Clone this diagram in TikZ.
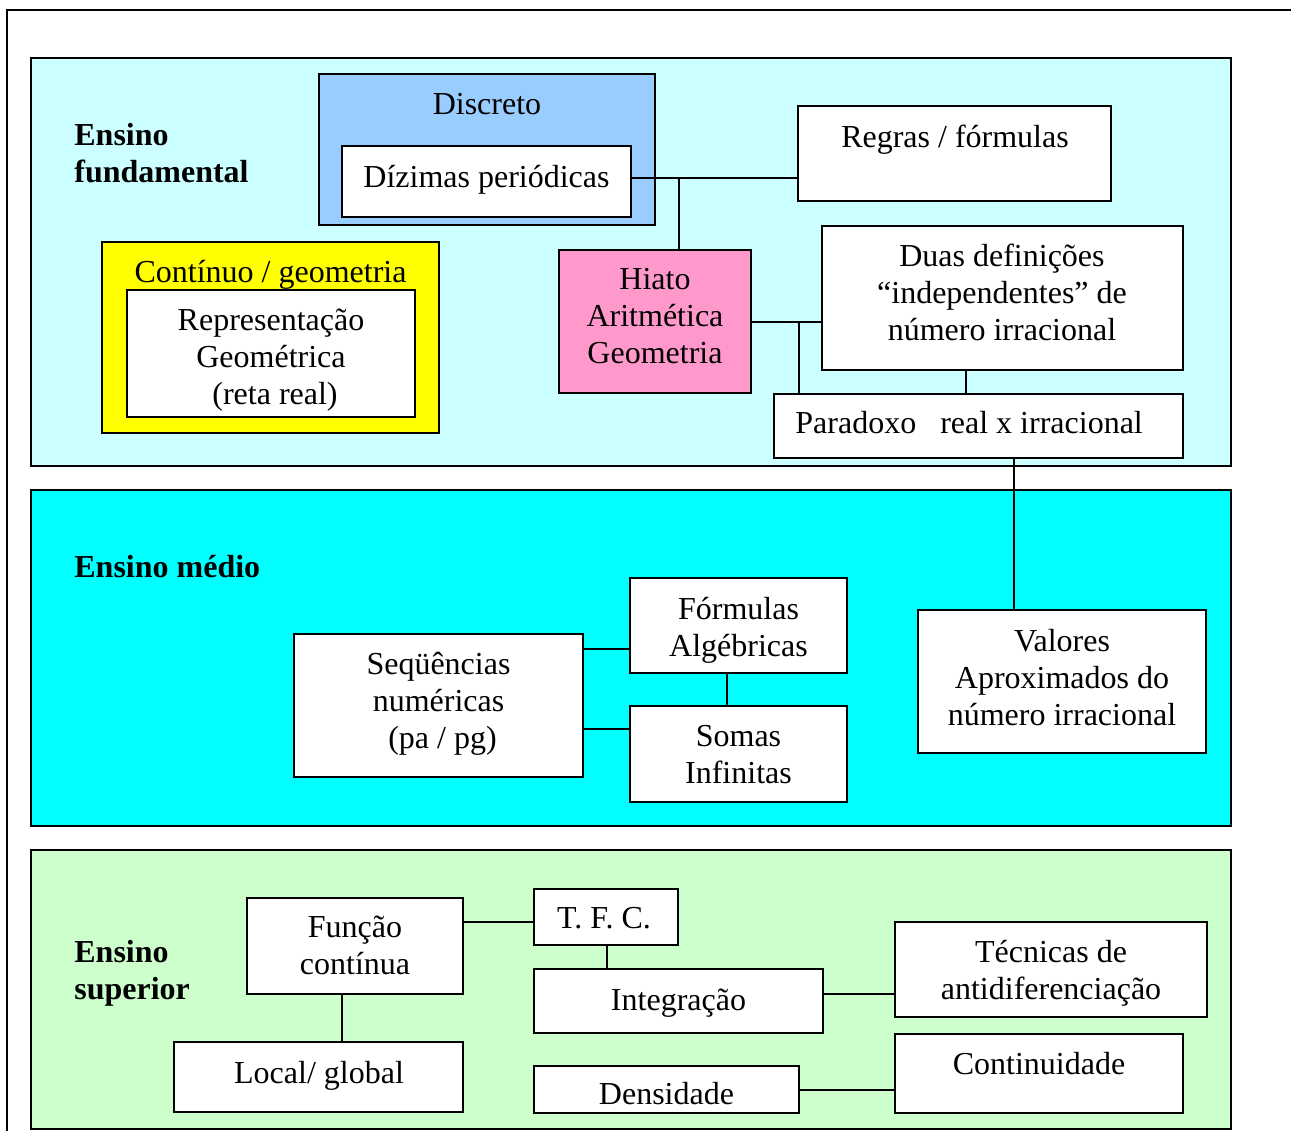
\documentclass[tikz,border=0pt]{standalone}
\usepackage{fontspec}
\setmainfont{Liberation Serif}
\usetikzlibrary{fit}
\definecolor{paleCyan}{HTML}{CCFFFF}
\definecolor{brightCyan}{HTML}{00FFFF}
\definecolor{paleGreen}{HTML}{CCFFCC}
\definecolor{skyBlue}{HTML}{99CCFF}
\definecolor{rosePink}{HTML}{FF99CC}
\definecolor{lemon}{HTML}{FFFF00}
\begin{document}
\begin{tikzpicture}[x=0.5pt,y=-0.5pt,
  font=\fontsize{16}{18.5}\selectfont,
  panel/.style={draw=black,line width=1pt,inner sep=0pt},
  box/.style={draw=black,line width=1pt,fill=white,inner sep=0pt},
  % texts are placed by the baseline of their last line
  txt/.style={anchor=base,align=center,inner sep=0pt},
  head/.style={anchor=base west,align=left,inner sep=0pt,
    font=\fontsize{16}{18.5}\selectfont\bfseries},
  link/.style={draw=black,line width=0.8pt}]
\useasboundingbox (0,0) rectangle (1291,1131);

% outer frame
\draw[line width=1pt] (7,1131) -- (7,10) -- (1291,10);

% school levels
\node[panel,fill=paleCyan,fit={(31,58)(1231,466)}] (fund) {};
\node[panel,fill=brightCyan,fit={(31,490)(1231,826)}] (medio) {};
\node[panel,fill=paleGreen,fit={(31,850)(1231,1129)}] (sup) {};

\node[head] (hfund) at (74,182.5) {Ensino\\fundamental};
\node[head] (hmedio) at (74,577.5) {Ensino médio};
\node[head] (hsup) at (74,999) {Ensino\\superior};

% ---- Ensino fundamental
\node[box,fill=skyBlue,fit={(319,74)(655,225)}] (disc) {};
\node[txt] (disct) at (487,114) {Discreto};
\node[box,fit={(342,146)(631,217)}] (dz) {};
\node[txt] (dzt) at (486.5,187) {Dízimas periódicas};

\node[box,fit={(798,106)(1111,201)}] (regras) {};
\node[txt] (regrast) at (955,147) {Regras / fórmulas};

\node[box,fill=rosePink,fit={(559,250)(751,393)}] (hiato) {};
\node[txt] (hiatot) at (655,363.5) {Hiato\\Aritmética\\Geometria};

\node[box,fit={(822,226)(1183,370)}] (duas) {};
\node[txt] (duast) at (1002,340) {Duas definições\\“independentes” de\\número irracional};

\node[box,fit={(774,394)(1183,458)}] (parad) {};
\node[anchor=base west,inner sep=0pt] (paradt) at (795,433) {Paradoxo\ \ \ real x irracional};

\node[box,fill=lemon,fit={(102,242)(439,433)}] (cont) {};
\node[txt] (contt) at (270.5,282.5) {Contínuo / geometria};
\node[box,fit={(127,290)(415,417)}] (repr) {};
\node[txt] (reprt) at (271,404) {Representação\\Geométrica\\\ (reta real)};

% ---- Ensino médio
\node[box,fit={(294,634)(583,777)}] (seq) {};
\node[txt] (seqt) at (438.5,748) {Seqüências\\numéricas\\\ (pa / pg)};
\node[box,fit={(630,578)(847,673)}] (form) {};
\node[txt] (formt) at (738.5,656) {Fórmulas\\Algébricas};
\node[box,fit={(630,706)(847,802)}] (somas) {};
\node[txt] (somast) at (738.5,783) {Somas\\Infinitas};
\node[box,fit={(918,610)(1206,753)}] (valores) {};
\node[txt] (valorest) at (1062,725) {Valores\\Aproximados do\\número irracional};

% ---- Ensino superior
\node[box,fit={(247,898)(463,994)}] (funcao) {};
\node[txt] (funcaot) at (355,974) {Função\\contínua};
\node[box,fit={(174,1042)(463,1112)}] (local) {};
\node[txt] (localt) at (319,1083) {Local/ global};
\node[box,fit={(534,889)(678,945)}] (tfc) {};
\node[txt] (tfct) at (604,928.5) {T. F. C.};
\node[box,fit={(534,969)(823,1033)}] (integ) {};
\node[txt] (integt) at (678.5,1010) {Integração};
\node[box,fit={(534,1066)(799,1113)}] (dens) {};
\node[txt] (denst) at (666.5,1104) {Densidade};
\node[box,fit={(895,922)(1207,1017)}] (tecn) {};
\node[txt] (tecnt) at (1051,999) {Técnicas de\\antidiferenciação};
\node[box,fit={(895,1034)(1183,1113)}] (contin) {};
\node[txt] (contint) at (1039,1074.5) {Continuidade};

% ---- connectors
\coordinate (j1) at (679,178);
\draw[link] (dz.east |- j1) -- (regras.west |- j1);
\draw[link] (j1) -- (j1 |- hiato.north);
\coordinate (j2) at (799,322);
\draw[link] (hiato.east |- j2) -- (duas.west |- j2);
\draw[link] (j2) -- (j2 |- parad.north);
\coordinate (j3) at (966,380);
\draw[link] (j3 |- duas.south) -- (j3 |- parad.north);
\coordinate (j4) at (1014,530);
\draw[link] (j4 |- parad.south) -- (j4 |- valores.north);

\coordinate (j5) at (600,649);
\coordinate (j6) at (600,729);
\draw[link] (seq.east |- j5) -- (form.west |- j5);
\draw[link] (seq.east |- j6) -- (somas.west |- j6);
\coordinate (j7) at (727,690);
\draw[link] (j7 |- form.south) -- (j7 |- somas.north);

\coordinate (j8) at (500,922);
\draw[link] (funcao.east |- j8) -- (tfc.west |- j8);
\coordinate (j9) at (342,1020);
\draw[link] (j9 |- funcao.south) -- (j9 |- local.north);
\coordinate (j10) at (607,957);
\draw[link] (j10 |- tfc.south) -- (j10 |- integ.north);
\coordinate (j11) at (860,994);
\draw[link] (integ.east |- j11) -- (tecn.west |- j11);
\coordinate (j12) at (850,1090);
\draw[link] (dens.east |- j12) -- (contin.west |- j12);
\end{tikzpicture}
\end{document}
